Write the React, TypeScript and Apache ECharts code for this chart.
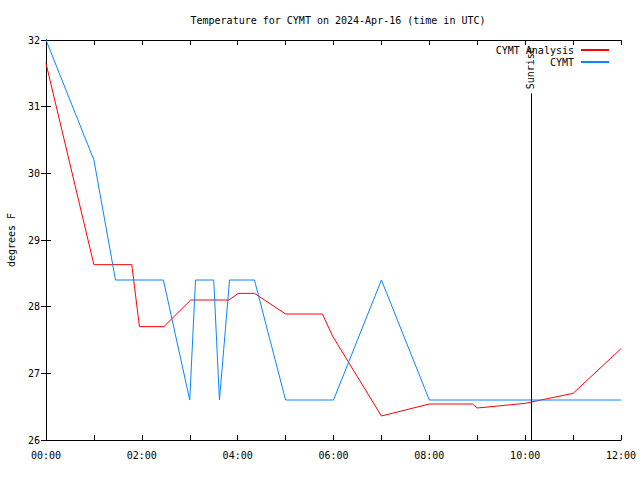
import React, { useEffect, useRef } from "react";
import * as echarts from "echarts";

const title = "Temperature for CYMT on 2024-Apr-16 (time in UTC)";
const yAxisName = "degrees F";

// hours since 00:00 UTC
const analysisHours = [0, 1.0, 1.79, 1.95, 2.46, 3.02, 3.82, 4.01, 4.35, 5.0, 5.77, 5.98, 7.0, 8.0, 8.9, 9.0, 10.0, 11.0, 12.0];
const analysisTemps = [31.65, 28.63, 28.63, 27.7, 27.7, 28.1, 28.1, 28.2, 28.2, 27.89, 27.89, 27.56, 26.36, 26.54, 26.54, 26.48, 26.55, 26.7, 27.37];

const obsHours = [0, 1, 1.45, 2.45, 3.0, 3.12, 3.5, 3.62, 3.83, 4.35, 5.0, 6.0, 7.0, 8.0, 12.0];
const obsTemps = [32, 30.2, 28.4, 28.4, 26.6, 28.4, 28.4, 26.6, 28.4, 28.4, 26.6, 26.6, 28.4, 26.6, 26.6];

const sunriseHour = 10.12;
const sunriseTop = 31.2;

const FONT = "DejaVu Sans Mono";

function fmtHour(v: number): string {
  if (Math.round(v) % 2 !== 0) return "";
  return String(Math.round(v)).padStart(2, "0") + ":00";
}

export default function App() {
  const ref = useRef<HTMLDivElement>(null);
  useEffect(() => {
    if (!ref.current) return;
    const chart = echarts.init(ref.current, undefined, { renderer: "svg" });
    const axisLine = { show: true, lineStyle: { color: "#000", width: 1 } };
    const tick = { show: true, inside: true, length: 5, lineStyle: { color: "#000" } };
    chart.setOption({
      animation: false,
      backgroundColor: "#fff",
      textStyle: { fontFamily: FONT },
      title: {
        text: title,
        left: 333,
        top: 10,
        textAlign: "center",
        textStyle: { fontFamily: FONT, fontSize: 10, fontWeight: "normal", color: "#000" },
      },
      legend: {
        orient: "vertical",
        align: "right",
        right: 26,
        top: 40,
        itemWidth: 28,
        itemHeight: 2,
        itemGap: 2,
        icon: "rect",
        textStyle: { fontFamily: FONT, fontSize: 10, color: "#000", padding: [0, 2, 0, 0] },
        data: ["CYMT Analysis", "CYMT"],
      },
      grid: { left: 46, right: 19, top: 40, bottom: 40, containLabel: false, outerBoundsMode: "none" },
      xAxis: [
        {
          type: "value",
          min: 0,
          max: 12,
          interval: 1,
          axisLine,
          axisTick: tick,
          splitLine: { show: false },
          axisLabel: { formatter: fmtHour, color: "#000", fontFamily: FONT, fontSize: 10, margin: 10 },
        },
        {
          type: "value",
          position: "top",
          min: 0,
          max: 12,
          interval: 1,
          axisLine,
          axisTick: tick,
          splitLine: { show: false },
          axisLabel: { show: false },
        },
      ],
      yAxis: [
        {
          type: "value",
          min: 26,
          max: 32,
          interval: 1,
          name: yAxisName,
          nameLocation: "middle",
          nameGap: 30,
          nameTextStyle: { fontFamily: FONT, fontSize: 10, color: "#000" },
          axisLine,
          axisTick: tick,
          splitLine: { show: false },
          axisLabel: { color: "#000", fontFamily: FONT, fontSize: 10, margin: 6 },
        },
        {
          type: "value",
          position: "right",
          min: 26,
          max: 32,
          interval: 1,
          axisLine,
          axisTick: tick,
          splitLine: { show: false },
          axisLabel: { show: false },
        },
      ],
      series: [
        {
          name: "CYMT Analysis",
          type: "line",
          showSymbol: false,
          symbol: "none",
          color: "#ff0000",
          lineStyle: { color: "#ff0000", width: 1 },
          data: analysisHours.map((h, i) => [h, analysisTemps[i]]),
        },
        {
          name: "CYMT",
          type: "line",
          showSymbol: false,
          symbol: "none",
          color: "#0a84ff",
          lineStyle: { color: "#0a84ff", width: 1 },
          data: obsHours.map((h, i) => [h, obsTemps[i]]),
          markLine: {
            silent: true,
            symbol: "none",
            animation: false,
            lineStyle: { color: "#000", width: 1, type: "solid" },
            label: { show: false },
            data: [[{ coord: [sunriseHour, 26] }, { coord: [sunriseHour, sunriseTop] }]],
          },
        },
      ],
    });
    const p = chart.convertToPixel({ gridIndex: 0 }, [sunriseHour, sunriseTop]) as number[];
    chart.setOption({
      graphic: [
        {
          type: "text",
          x: p[0],
          y: p[1] - 4,
          rotation: Math.PI / 2,
          style: {
            text: "Sunrise",
            fontFamily: FONT,
            fontSize: 10,
            fill: "#000",
            align: "left",
            verticalAlign: "middle",
          },
        },
      ],
    });
    return () => chart.dispose();
  }, []);
  return (
    <div
      ref={ref}
      style={{ position: "fixed", left: 0, top: 0, width: 640, height: 480 }}
    />
  );
}
